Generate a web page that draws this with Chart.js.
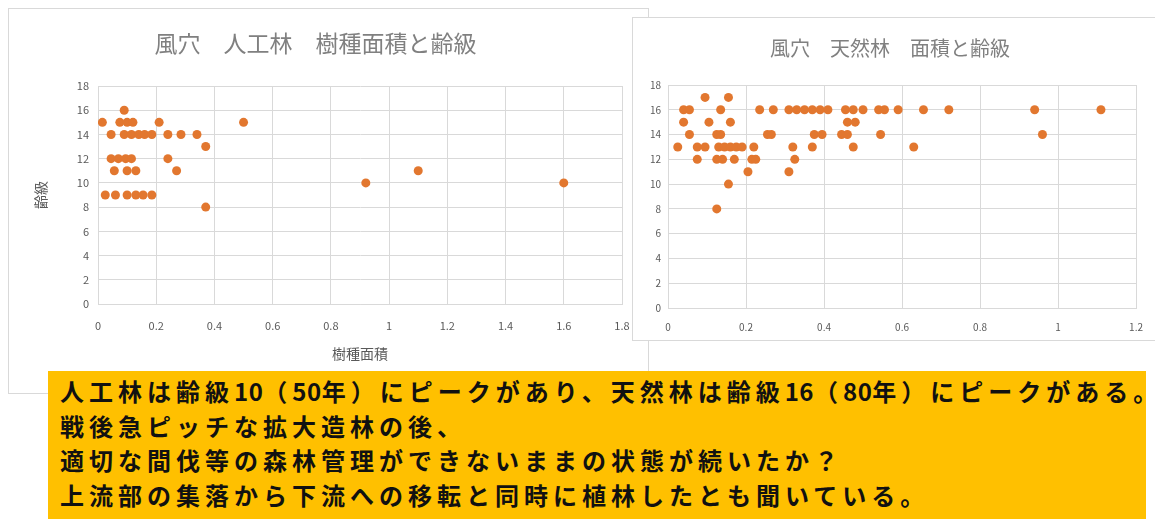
<!DOCTYPE html>
<html lang="ja">

<head>
    <meta charset="UTF-8">
    <title>風穴 樹種面積と齢級</title>
    <script src="https://cdn.jsdelivr.net/npm/chart.js"></script>

    <style>
        body {
            margin: 0;
            background: #ffffff;
            width: 1155px;
            height: 519px;
            overflow: hidden;
            position: relative;
            font-family: "Noto Sans CJK JP", sans-serif;
        }

        .frame {
            position: absolute;
            background: #ffffff;
            border: 1px solid #d9d9d9;
            box-sizing: border-box;
        }

        #plantedBox {
            left: 8px;
            top: 8px;
            width: 641px;
            height: 386px;
        }

        #naturalBox {
            left: 632px;
            top: 17px;
            width: 530px;
            height: 324px;
        }

        .frame canvas {
            position: absolute;
            left: 0;
            top: 0;
        }

        #note {
            position: absolute;
            left: 48px;
            top: 371px;
            width: 1098px;
            height: 148px;
            background: #ffc000;
            box-sizing: border-box;
            padding: 3px 0 0 12px;
            font-weight: bold;
            font-size: 24px;
            line-height: 34.5px;
            letter-spacing: 5px;
            color: #111111;
            white-space: nowrap;
            overflow: hidden;
        }

        #note .num {
            letter-spacing: 0.5px;
        }
    </style>
</head>

<body>
    <div class="frame" id="plantedBox"><canvas id="plantedChart" width="640" height="385"></canvas></div>
    <div class="frame" id="naturalBox"><canvas id="naturalChart" width="523" height="323"></canvas></div>
    <div id="note">
        人工林は齢級<span class="num">10</span>（<span class="num">50</span>年）にピークがあり、天然林は齢級<span class="num">16</span>（<span class="num">80</span>年）にピークがある。<br>
        戦後急ピッチな拡大造林の後、<br>
        適切な間伐等の森林管理ができないままの状態が続いたか？<br>
        上流部の集落から下流への移転と同時に植林したとも聞いている。
    </div>

    <script>
        // 人工林: 樹種面積 (x) と 齢級 (y)
        const plantedArea = [
            0.09,
            0.015, 0.075, 0.1, 0.12, 0.21, 0.5,
            0.045, 0.09, 0.115, 0.14, 0.16, 0.185, 0.24, 0.285, 0.34,
            0.37,
            0.045, 0.07, 0.095, 0.115, 0.24,
            0.056, 0.1, 0.13, 0.27, 1.1,
            0.92, 1.6,
            0.025, 0.06, 0.1, 0.13, 0.155, 0.185,
            0.37
        ];
        const plantedAge = [
            16,
            15, 15, 15, 15, 15, 15,
            14, 14, 14, 14, 14, 14, 14, 14, 14,
            13,
            12, 12, 12, 12, 12,
            11, 11, 11, 11, 11,
            10, 10,
            9, 9, 9, 9, 9, 9,
            8
        ];

        // 天然林: 面積 (x) と 齢級 (y)
        const naturalArea = [
            0.095, 0.155,
            0.04, 0.055, 0.135, 0.235, 0.27, 0.31, 0.33, 0.35, 0.37, 0.39, 0.41,
            0.455, 0.475, 0.5, 0.54, 0.555, 0.59, 0.655, 0.72, 0.94, 1.11,
            0.04, 0.105, 0.16, 0.46, 0.48,
            0.055, 0.125, 0.135, 0.255, 0.265, 0.375, 0.395, 0.445, 0.46, 0.545, 0.96,
            0.025, 0.075, 0.095, 0.13, 0.145, 0.16, 0.175, 0.19, 0.22, 0.32, 0.37, 0.475, 0.63,
            0.075, 0.125, 0.14, 0.17, 0.215, 0.225, 0.325,
            0.205, 0.31,
            0.155,
            0.125
        ];
        const naturalAge = [
            17, 17,
            16, 16, 16, 16, 16, 16, 16, 16, 16, 16, 16,
            16, 16, 16, 16, 16, 16, 16, 16, 16, 16,
            15, 15, 15, 15, 15,
            14, 14, 14, 14, 14, 14, 14, 14, 14, 14, 14,
            13, 13, 13, 13, 13, 13, 13, 13, 13, 13, 13, 13, 13,
            12, 12, 12, 12, 12, 12, 12,
            11, 11,
            10,
            8
        ];

        const plantedTitle = '風穴　人工林　樹種面積と齢級';
        const naturalTitle = '風穴　天然林　面積と齢級';

        const dotColor = '#e2772f';
        const gridColor = '#d9d9d9';
        const tickColor = '#595959';
        const fontFamily = '"Noto Sans CJK JP", sans-serif';

        function toPoints(xs, ys) {
            return xs.map((x, i) => ({ x: x, y: ys[i] }));
        }

        function scatterChart(id, cfg) {
            const ctx = document.getElementById(id).getContext('2d');
            return new Chart(ctx, {
                type: 'scatter',
                data: {
                    datasets: [{
                        data: toPoints(cfg.xs, cfg.ys),
                        backgroundColor: dotColor,
                        borderColor: dotColor,
                        pointRadius: 4.5,
                        borderWidth: 0
                    }]
                },
                options: {
                    responsive: false,
                    animation: false,
                    layout: { padding: { top: 0, right: cfg.padRight, bottom: 0, left: 0 } },
                    plugins: {
                        legend: { display: false },
                        tooltip: { enabled: false },
                        title: {
                            display: true,
                            text: cfg.title,
                            color: '#808080',
                            font: { family: fontFamily, size: cfg.titleSize, weight: 'normal' },
                            padding: cfg.titlePadding
                        }
                    },
                    scales: {
                        x: {
                            type: 'linear',
                            min: 0,
                            max: cfg.xMax,
                            ticks: {
                                stepSize: 0.2,
                                color: tickColor,
                                font: { family: fontFamily, size: cfg.tickSize },
                                padding: cfg.xTickPad,
                                maxRotation: 0,
                                callback: v => Math.round(v * 10) / 10
                            },
                            grid: { color: gridColor, drawTicks: false },
                            border: { color: gridColor },
                            title: cfg.xTitle ? {
                                display: true,
                                text: cfg.xTitle,
                                color: tickColor,
                                font: { family: fontFamily, size: 14 },
                                padding: { top: 0, bottom: cfg.xTitlePad }
                            } : { display: false },
                            afterFit: s => { s.height = cfg.xHeight; }
                        },
                        y: {
                            min: 0,
                            max: 18,
                            ticks: {
                                stepSize: 2,
                                color: tickColor,
                                font: { family: fontFamily, size: cfg.tickSize },
                                padding: cfg.yTickPad
                            },
                            grid: { color: gridColor, drawTicks: false },
                            border: { color: gridColor },
                            title: cfg.yTitle ? {
                                display: true,
                                text: cfg.yTitle,
                                color: tickColor,
                                font: { family: fontFamily, size: 14 },
                                padding: { top: cfg.yTitlePad, bottom: 0 }
                            } : { display: false },
                            afterFit: s => { s.width = cfg.yWidth; }
                        }
                    }
                }
            });
        }

        scatterChart('plantedChart', {
            xs: plantedArea, ys: plantedAge, title: plantedTitle,
            titleSize: 23, titlePadding: { top: 20, bottom: 29.4 },
            xMax: 1.8, tickSize: 11, xTickPad: 15, yTickPad: 9,
            xTitle: '樹種面積', xTitlePad: 32, xHeight: 90,
            yTitle: '齢級', yTitlePad: 23.6, yWidth: 89, padRight: 27
        });

        scatterChart('naturalChart', {
            xs: naturalArea, ys: naturalAge, title: naturalTitle,
            titleSize: 20, titlePadding: { top: 18, bottom: 25 },
            xMax: 1.2, tickSize: 10, xTickPad: 13, yTickPad: 7,
            xTitle: null, xHeight: 33,
            yTitle: null, yWidth: 35, padRight: 9
        });
    </script>
</body>

</html>
